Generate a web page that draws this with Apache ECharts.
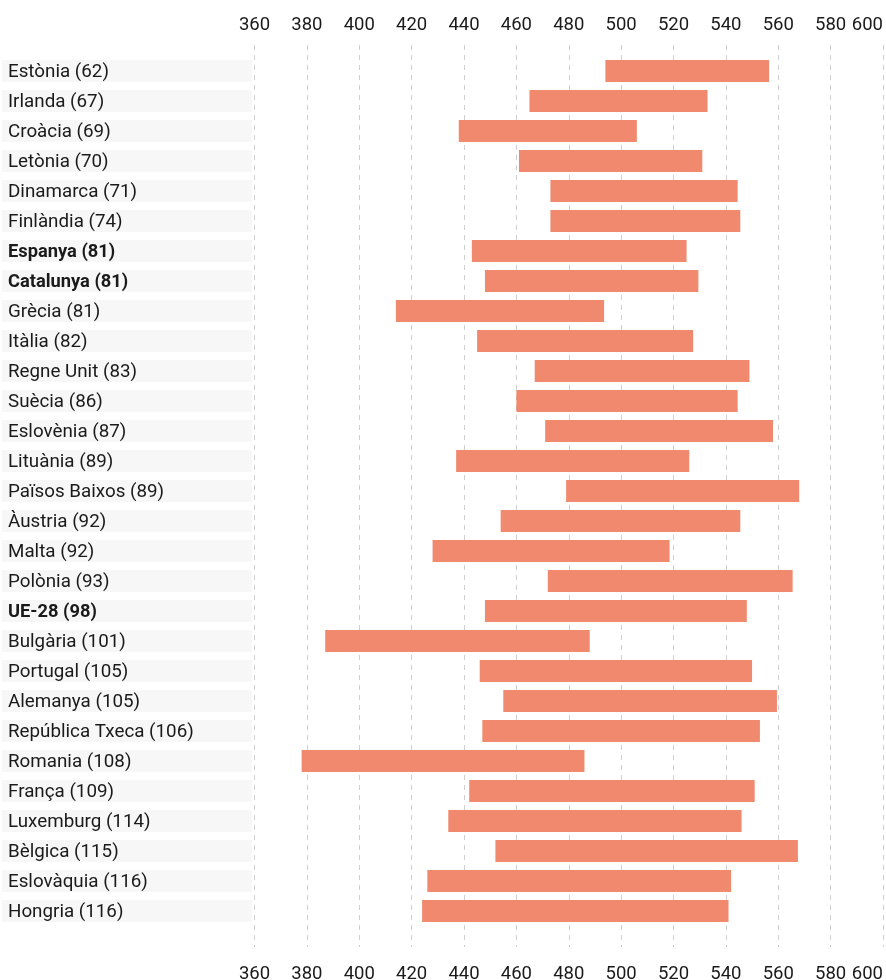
<!DOCTYPE html>
<html>
<head>
<meta charset="utf-8">
<script src="https://cdn.jsdelivr.net/npm/echarts@6/dist/echarts.min.js"></script>
<style>
  html, body { margin: 0; padding: 0; background: #fff; }
  #chart { width: 886px; height: 980px; }
</style>
</head>
<body>
<div id="chart"></div>
<script>
// països (entre parèntesi, la posició)
const countries = [
  'Estònia (62)', 'Irlanda (67)', 'Croàcia (69)', 'Letònia (70)', 'Dinamarca (71)',
  'Finlàndia (74)', 'Espanya (81)', 'Catalunya (81)', 'Grècia (81)', 'Itàlia (82)',
  'Regne Unit (83)', 'Suècia (86)', 'Eslovènia (87)', 'Lituània (89)', 'Països Baixos (89)',
  'Àustria (92)', 'Malta (92)', 'Polònia (93)', 'UE-28 (98)', 'Bulgària (101)',
  'Portugal (105)', 'Alemanya (105)', 'República Txeca (106)', 'Romania (108)', 'França (109)',
  'Luxemburg (114)', 'Bèlgica (115)', 'Eslovàquia (116)', 'Hongria (116)'
];
// inici i final de cada barra
const lowValues = [
  494, 465, 438, 461, 473,
  473, 443, 448, 414, 445,
  467, 460, 471, 437, 479,
  454, 428, 472, 448, 387,
  446, 455, 447, 378, 442,
  434, 452, 426, 424
];
const highValues = [
  556.5, 533, 506, 531, 544.5,
  545.5, 525, 529.5, 493.5, 527.5,
  549, 544.5, 558, 526, 568,
  545.5, 518.5, 565.5, 548, 488,
  550, 559.5, 553, 486, 551,
  546, 567.5, 542, 541
];
const boldRows = ['Espanya (81)', 'Catalunya (81)', 'UE-28 (98)'];
const xTicks = [360, 600, 20]; // min, max, interval

const chart = echarts.init(document.getElementById('chart'));
const FONT = 'Roboto';
const TEXT = '#1a1a1a';

const axisCommon = {
  type: 'value',
  min: xTicks[0],
  max: xTicks[1],
  interval: xTicks[2],
  axisLine: { show: false },
  axisTick: { show: false },
  axisLabel: {
    color: TEXT,
    fontSize: 18.5,
    fontFamily: FONT,
    alignMaxLabel: 'right'
  }
};

const rowData = countries.map((c, i) => [i, lowValues[i], highValues[i], c]);

const option = {
  animation: false,
  grid: { left: 254.5, right: 3, top: 45, bottom: 33, outerBoundsMode: 'none' },
  xAxis: [
    Object.assign({}, axisCommon, {
      position: 'bottom',
      axisLabel: Object.assign({}, axisCommon.axisLabel, { margin: 18 }),
      splitLine: { show: true, lineStyle: { color: '#cfcfcf', type: [5, 5], width: 1 } }
    }),
    Object.assign({}, axisCommon, {
      position: 'top',
      axisLabel: Object.assign({}, axisCommon.axisLabel, { margin: 10 }),
      splitLine: { show: false }
    })
  ],
  yAxis: {
    type: 'value',
    inverse: true,
    min: -0.8667,
    max: 29.2,
    show: false
  },
  series: [
    {
      // franja grisa + nom del país
      type: 'custom',
      clip: false,
      encode: { x: 1, y: 0 },
      data: rowData,
      renderItem: function (params, api) {
        const p = api.coord([xTicks[0], api.value(0)]);
        const name = countries[params.dataIndex];
        const bold = boldRows.includes(name);
        return {
          type: 'group',
          children: [
            {
              type: 'rect',
              shape: { x: 2, y: p[1] - 11, width: 250, height: 22 },
              style: { fill: '#f7f7f7' }
            },
            {
              type: 'text',
              x: 8,
              y: p[1] + 1,
              style: {
                text: name,
                fill: TEXT,
                font: bold ? 'bold 18.3px ' + FONT : '18.8px ' + FONT,
                verticalAlign: 'middle',
                align: 'left'
              }
            }
          ]
        };
      }
    },
    {
      type: 'custom',
      encode: { x: [1, 2], y: 0 },
      data: rowData,
      renderItem: function (params, api) {
        const a = api.coord([api.value(1), api.value(0)]);
        const b = api.coord([api.value(2), api.value(0)]);
        return {
          type: 'rect',
          shape: { x: a[0], y: a[1] - 11, width: b[0] - a[0], height: 22 },
          style: { fill: '#f0896e' }
        };
      }
    }
  ]
};

chart.setOption(option);
</script>
</body>
</html>
